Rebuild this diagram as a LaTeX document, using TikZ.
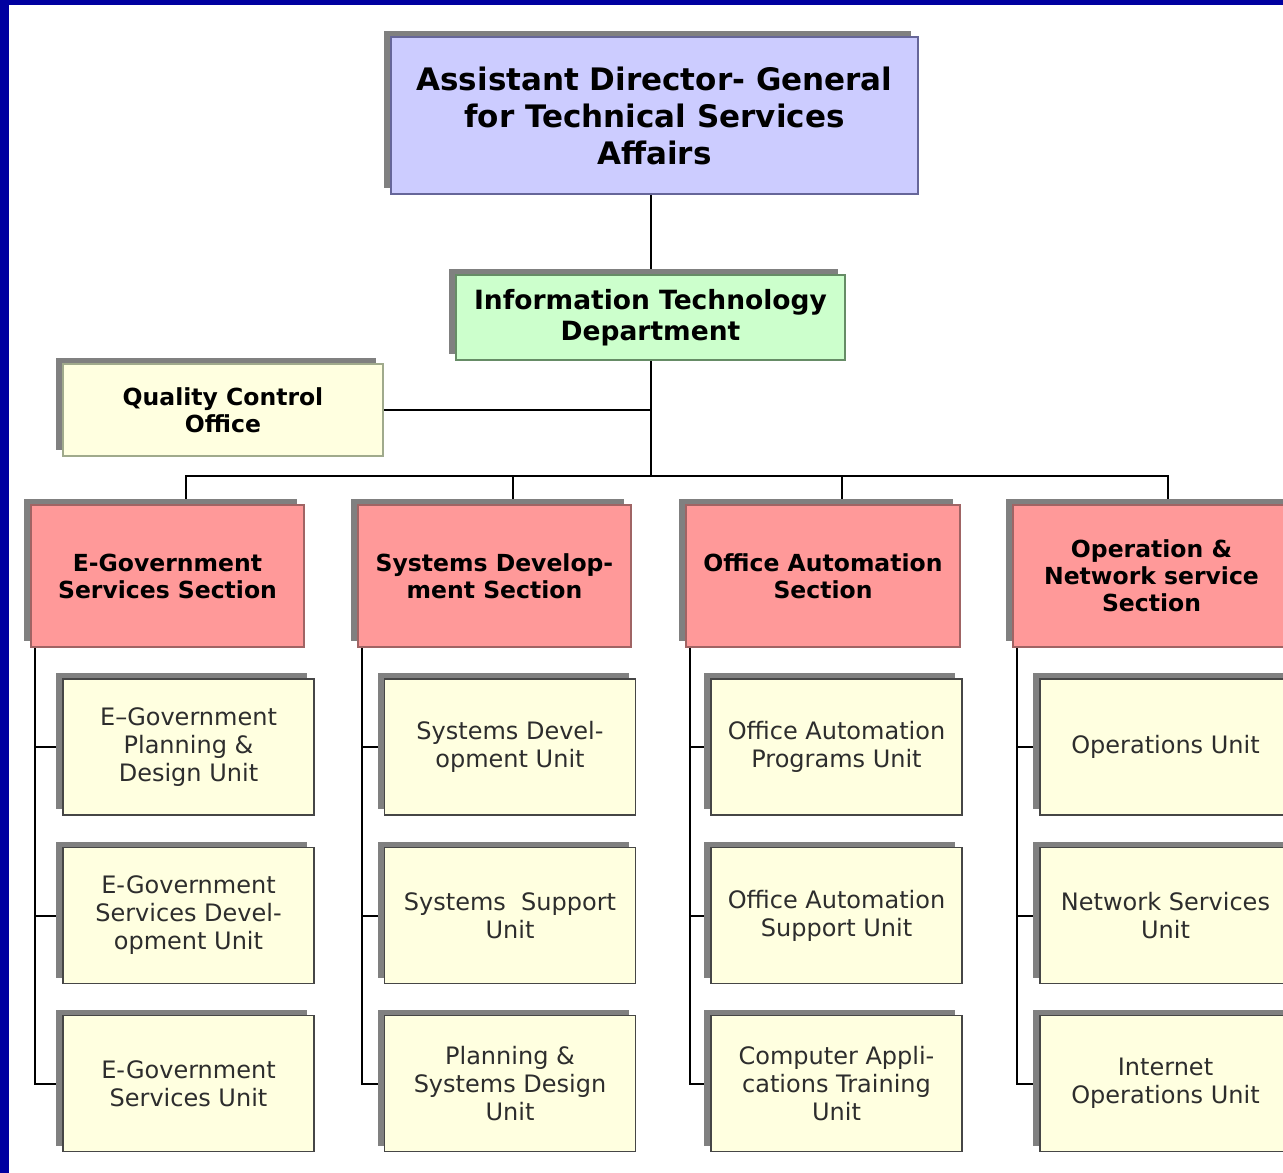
\documentclass[tikz,border=0pt]{standalone}
\usepackage{fontspec}
\setmainfont{DejaVu Sans}
\usetikzlibrary{shadows,backgrounds}
\definecolor{frameblue}{RGB}{0,0,160}
\definecolor{topfill}{RGB}{204,204,255}
\definecolor{topdraw}{RGB}{102,102,153}
\definecolor{itfill}{RGB}{204,255,204}
\definecolor{itdraw}{RGB}{102,140,102}
\definecolor{qcfill}{RGB}{255,255,224}
\definecolor{qcdraw}{RGB}{160,170,140}
\definecolor{secfill}{RGB}{255,153,153}
\definecolor{secdraw}{RGB}{160,100,100}
\definecolor{unitfill}{RGB}{255,255,224}
\definecolor{unitdraw}{RGB}{70,70,70}
\definecolor{shadowgray}{RGB}{128,128,128}
\definecolor{unittext}{RGB}{45,45,45}
\tikzset{
  box/.style={rectangle, inner sep=0pt, align=center, line width=1.2pt,
    general shadow={shadow xshift=-7pt, shadow yshift=6pt, fill=shadowgray}},
  topbox/.style={box, fill=topfill, draw=topdraw, minimum width=527pt, minimum height=157pt,
    font=\fontsize{31}{37}\selectfont\bfseries},
  itbox/.style={box, fill=itfill, draw=itdraw, minimum width=389pt, minimum height=85pt,
    font=\fontsize{26.5}{31}\selectfont\bfseries},
  qcbox/.style={box, fill=qcfill, draw=qcdraw, minimum width=320pt, minimum height=92pt,
    font=\fontsize{23.5}{27}\selectfont\bfseries},
  secbox/.style={box, fill=secfill, draw=secdraw, minimum width=273pt, minimum height=142pt,
    font=\fontsize{23.5}{27}\selectfont\bfseries},
  unitbox/.style={box, fill=unitfill, draw=unitdraw, minimum width=251pt, minimum height=136pt,
    text=unittext, font=\fontsize{24}{28}\selectfont},
  conn/.style={line width=2pt, black}
}
\begin{document}
\begin{tikzpicture}[x=1pt,y=-1pt]
\useasboundingbox (0,0) rectangle (1283,1173);
\clip (0,0) rectangle (1283,1173);

% top level
\node[topbox] (adg) at (654.5,115.5) {Assistant Director- General\\for Technical Services\\Affairs};
\node[itbox] (itd) at (650.5,317.5) {Information Technology\\Department};
\node[qcbox] (qc) at (223,410) {Quality Control\\Office};
\path (itd.south) ++(0,115) coordinate (bar);

% sections
\node[secbox] (egs) at (167.5,576) {E-Government\\Services Section};
\node[secbox] (sds) at (494.5,576) {Systems Develop-\\ment Section};
\node[secbox, minimum width=274pt] (oas) at (823,576) {Office Automation\\Section};
\node[secbox, minimum width=277pt] (ons) at (1151.5,576) {Operation \&\\Network service\\Section};

% units
\node[unitbox] (u11) at (188.5,747) {E–Government\\Planning \&\\Design Unit};
\node[unitbox] (u12) at (188.5,915.5) {E-Government\\Services Devel-\\opment Unit};
\node[unitbox] (u13) at (188.5,1083.5) {E-Government\\Services Unit};

\node[unitbox] (u21) at (510,747) {Systems Devel-\\opment Unit};
\node[unitbox] (u22) at (510,915.5) {Systems~~Support\\Unit};
\node[unitbox] (u23) at (510,1083.5) {Planning \&\\Systems Design\\Unit};

\node[unitbox] (u31) at (836.5,747) {Office Automation\\Programs Unit};
\node[unitbox] (u32) at (836.5,915.5) {Office Automation\\Support Unit};
\node[unitbox] (u33) at (836.5,1083.5) {Computer Appli-\\cations Training\\Unit};

\node[unitbox] (u41) at (1165.5,747) {Operations Unit};
\node[unitbox] (u42) at (1165.5,915.5) {Network Services\\Unit};
\node[unitbox] (u43) at (1165.5,1083.5) {Internet\\Operations Unit};

\begin{pgfonlayer}{background}
\fill[white] (0,0) rectangle (1283,1173);
\draw[conn] (itd.north |- adg.south) -- (itd.north);
\draw[conn] (itd.south) -- (bar);
\draw[conn] (qc.east) -- (qc.east -| bar);
\draw[conn] ([xshift=18pt]egs.north) -- ([xshift=18pt]egs.north |- bar) -- ([xshift=16.5pt]ons.north |- bar) -- ([xshift=16.5pt]ons.north);
\draw[conn] ([xshift=18.5pt]sds.north) -- ([xshift=18.5pt]sds.north |- bar);
\draw[conn] ([xshift=19pt]oas.north) -- ([xshift=19pt]oas.north |- bar);
\foreach \s/\a/\b/\c in {egs/u11/u12/u13, sds/u21/u22/u23, oas/u31/u32/u33, ons/u41/u42/u43}{
  \draw[conn] ([xshift=5pt]\s.south west) |- (\a.west);
  \draw[conn] ([xshift=5pt]\s.south west) |- (\b.west);
  \draw[conn] ([xshift=5pt]\s.south west) |- (\c.west);
}
\end{pgfonlayer}

% frame
\fill[frameblue] (0,0) rectangle (9,1173);
\fill[frameblue] (0,0) rectangle (1283,5);
\end{tikzpicture}
\end{document}
